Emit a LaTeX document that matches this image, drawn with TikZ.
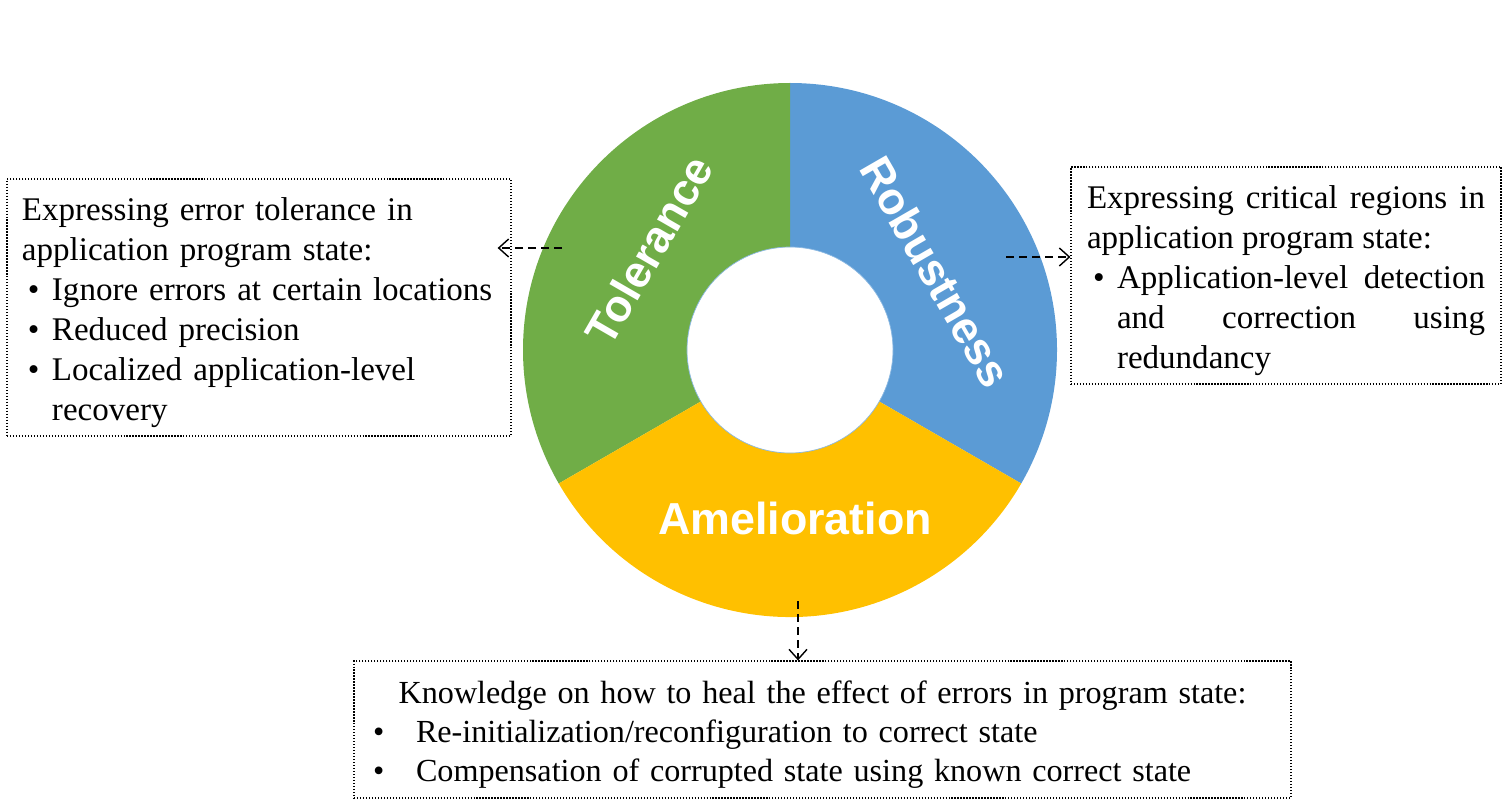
\documentclass[tikz,border=0pt]{standalone}
\usepackage{fontspec}
\setmainfont{Liberation Serif}
\setsansfont{Liberation Sans}
\usetikzlibrary{arrows.meta}
\definecolor{tolgreen}{HTML}{70AD47}
\definecolor{robblue}{HTML}{5B9BD5}
\definecolor{amelgold}{HTML}{FFC000}
\newcommand{\bitem}[3]{\par\noindent\makebox[#1][l]{\hspace{#2}\textbullet}\parbox[t]{\dimexpr\hsize-#1\relax}{#3}}
\newcommand{\boxend}{\par\vspace*{-0.2cm}}

\begin{document}
\begin{tikzpicture}[
		infobox/.style={draw, densely dotted, line width=0.7pt, inner ysep=0pt,
			font=\fontsize{18.8}{22.8}\selectfont,
			execute at begin node={\setlength{\parindent}{0pt}},
			execute at end node={\boxend}},
		callout/.style={dash pattern=on 0.16cm off 0.1cm, line width=0.8pt,
			-{Straight Barb[length=0.2cm,width=0.36cm]}},
		seglabel/.style={text=white, font=\sffamily\bfseries\fontsize{25.5}{30}\selectfont}
	]
	\useasboundingbox (0,0) rectangle (30.14,-16.2);
	\coordinate (c) at (15.8,-7.0);
	\fill[robblue] ([shift={(90:5.34)}]c) arc[start angle=90, end angle=-30, radius=5.34]
		-- ([shift={(-30:2.06)}]c) arc[start angle=-30, end angle=90, radius=2.06] -- cycle;
	\fill[tolgreen] ([shift={(90:5.34)}]c) arc[start angle=90, end angle=210, radius=5.34]
		-- ([shift={(210:2.06)}]c) arc[start angle=210, end angle=90, radius=2.06] -- cycle;
	\fill[amelgold] ([shift={(210:5.34)}]c) arc[start angle=210, end angle=330, radius=5.34]
		-- ([shift={(330:2.06)}]c) arc[start angle=330, end angle=210, radius=2.06] -- cycle;
	\draw[robblue!70, line width=0.4pt] (c) circle[radius=2.06];
	\node[seglabel, rotate=60] (tollabel) at (12.98,-5.0) {Tolerance};
	\node[seglabel, rotate=-60] (roblabel) at (18.72,-5.44) {Robustness};
	\node[seglabel] (amellabel) at (15.9,-10.36) {Amelioration};

	\node[infobox, inner xsep=0.3cm, text width=9.48cm, minimum height=5.14cm, align=left]
	(tolbox) at (5.18,-6.15) {
		Expressing error tolerance in\newline application program state:
		\bitem{0.6cm}{0.12cm}{\raggedright Ignore errors at certain locations}
		\bitem{0.6cm}{0.12cm}{\raggedright Reduced precision}
		\bitem{0.6cm}{0.12cm}{\raggedright Localized application-level\newline recovery}
	};
	\node[infobox, inner xsep=0.32cm, text width=7.96cm, minimum height=4.34cm, align=justify]
	(robbox) at (25.72,-5.51) {
		Expressing critical regions in\linebreak application program state:
		\bitem{0.6cm}{0.12cm}{Application-level detection\linebreak and correction using\linebreak redundancy}
	};
	\node[infobox, inner xsep=0.38cm, text width=17.98cm, minimum height=2.74cm, align=left,
		font=\fontsize{18.3}{22.2}\selectfont]
	(amelbox) at (16.45,-14.59) {
		\centerline{Knowledge on how to heal the effect of errors in program state:}
		\bitem{0.86cm}{0cm}{\raggedright Re-initialization/reconfiguration to correct state}
		\bitem{0.86cm}{0cm}{\raggedright Compensation of corrupted state using known correct state}
	};

	\coordinate (tolout) at (11.24,-4.96);
	\coordinate (robout) at (20.12,-5.14);
	\coordinate (amelout) at (15.96,-12.02);
	\draw[callout, shorten >=-0.28cm] (tolout) -- (tolout -| tolbox.east);
	\draw[callout] (robout) -- (robout -| robbox.west);
	\draw[callout] (amelout) -- (amelout |- amelbox.north);
\end{tikzpicture}
\end{document}
